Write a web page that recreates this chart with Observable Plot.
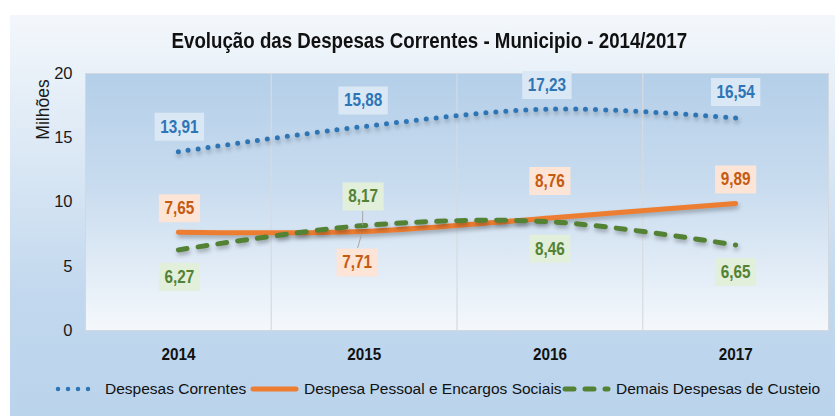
<!DOCTYPE html>
<html>
<head>
<meta charset="utf-8">
<script src="https://cdn.jsdelivr.net/npm/d3@7"></script>
<script src="https://cdn.jsdelivr.net/npm/@observablehq/plot@0.6"></script>
<style>
  html, body { margin: 0; padding: 0; background: #ffffff; }
  #wrap { position: relative; width: 835px; height: 416px; overflow: hidden; }
  #bg { position: absolute; left: 10px; top: 15px; width: 825px; height: 401px;
        background: linear-gradient(to bottom, #f3f7fb 0%, #dbe8f5 35%, #c2d8ee 70%, #bad4ec 100%); }
  #title { position: absolute; left: 0; top: 29px; width: 858px; text-align: center; }
  #title span { display: inline-block; transform: scaleX(0.87); transform-origin: center;
           font-family: "Liberation Sans", Arial, sans-serif; font-weight: bold;
           font-size: 21.5px; color: #111; white-space: nowrap; }
  #chart { position: absolute; left: 0; top: 60px; }
  #legend { position: absolute; left: 0; top: 378px; width: 835px; height: 22px;
            font-family: "Liberation Sans", Arial, sans-serif; font-size: 15.5px; color: #111; }
  .item { position: absolute; top: 0; display: flex; align-items: center; height: 22px; white-space: nowrap; }
  .item svg { margin-right: 4px; }
  svg g[aria-label="line"] { filter: drop-shadow(1px 3px 2px rgba(0,0,0,0.28)); }
</style>
</head>
<body>
<div id="wrap">
  <div id="bg"></div>
  <div id="title"><span></span></div>
  <div id="chart"></div>
  <div id="legend"></div>
</div>
<script>
// ---- data ----
const years = [2014, 2015, 2016, 2017];
const despesasCorrentes = [13.91, 15.88, 17.23, 16.54];
const despesaPessoal = [7.65, 7.71, 8.76, 9.89];
const demaisDespesas = [6.27, 8.17, 8.46, 6.65];
const seriesNames = ["Despesas Correntes", "Despesa Pessoal e Encargos Sociais", "Demais Despesas de Custeio"];
const yTicks = [0, 5, 10, 15, 20];
const titleText = "Evolução das Despesas Correntes - Municipio - 2014/2017";
const yLabel = "Milhões";

// ---- styles / layout (not data) ----
const seriesStyle = [
  {color: "#2e75b6", text: "#2e75b6", box: "#dae7f4", width: 5, dash: "0 10", cap: "round"},
  {color: "#ed7d31", text: "#c55a11", box: "#fce4d6", width: 5, dash: null, cap: "round"},
  {color: "#548235", text: "#548235", box: "#e2efda", width: 5, dash: "9 11", cap: "round"}
];
const labelOffsets = [
  [[1, -25], [-1, -26], [-3, -24], [0, -26]],
  [[1, -24], [-7, 31], [0, -37], [0, -24]],
  [[1, 27], [-1, -29], [0, 27], [0, 27]]
];

const allValues = [despesasCorrentes, despesaPessoal, demaisDespesas];
const rows = allValues.map((vals, s) => years.map((yr, i) => ({year: yr, value: vals[i], series: seriesNames[s]})));
const fmt = v => v.toFixed(2).replace(".", ",");

document.querySelector("#title span").textContent = titleText;

const labelFont = "'Liberation Sans', Arial, sans-serif";

function boxSymbol(w, h) {
  return {draw(ctx) { ctx.moveTo(-w/2, -h/2); ctx.lineTo(w/2, -h/2); ctx.lineTo(w/2, h/2); ctx.lineTo(-w/2, h/2); ctx.closePath(); }};
}

const labelMarks = [];
rows.forEach((data, s) => {
  data.forEach((d, i) => {
    const [dx, dy] = labelOffsets[s][i];
    const txt = fmt(d.value);
    const w = (txt.length - 1) * 8.3 + 4.2 + 12;
    labelMarks.push(Plot.dot([d], {x: "year", y: "value", dx, dy, r: 10, symbol: boxSymbol(w, 28), fill: seriesStyle[s].box, stroke: null}));
    labelMarks.push(Plot.text([d], {x: "year", y: "value", dx, dy, text: dd => fmt(dd.value), fill: seriesStyle[s].text,
      fontWeight: "bold", fontSize: 18, fontFamily: labelFont}));
  });
});

// leader lines for crowded labels at 2015
function leaders(index, scales) {
  const g = d3.create("svg:g");
  const x = scales.x(years[1]);
  const yg = scales.y(demaisDespesas[1]);
  const yo = scales.y(despesaPessoal[1]);
  g.append("line").attr("x1", x - 1).attr("y1", yg - 14).attr("x2", x - 1).attr("y2", yg).attr("stroke", "#a6a6a6").attr("stroke-width", 1);
  g.append("line").attr("x1", x - 2).attr("y1", yo + 3).attr("x2", x - 6).attr("y2", yo + 17).attr("stroke", "#a6a6a6").attr("stroke-width", 1);
  return g.node();
}

const plot = Plot.plot({
  width: 835,
  height: 315,
  marginLeft: 85,
  marginRight: 7,
  marginTop: 13,
  marginBottom: 45,
  style: {background: "transparent", fontFamily: "'Liberation Sans', Arial, sans-serif", overflow: "visible"},
  x: {domain: [years[0] - 0.5, years[years.length - 1] + 0.5], ticks: years, tickFormat: d => String(d), tickSize: 0, tickPadding: 18, label: null},
  y: {domain: [0, 20], ticks: yTicks, tickSize: 0, tickPadding: 13, label: null},
  marks: [
    Plot.frame({fill: "url(#plotGrad)", stroke: "#d3d8de"}),
    Plot.ruleX(years.slice(1).map(y => y - 0.5), {stroke: "#d6dbe0", strokeWidth: 1.2}),
    Plot.axisY({ticks: yTicks, tickSize: 0, tickPadding: 13, fontSize: 16.5, fill: "#1a1a1a", label: null}),
    Plot.axisX({ticks: years, tickFormat: d => String(d), tickSize: 0, tickPadding: 17, fontSize: 17, fontWeight: "bold", fill: "#111", label: null}),
    Plot.text([yLabel], {frameAnchor: "top-left", rotate: -90, textAnchor: "middle", lineAnchor: "middle", dx: -42, dy: 36, fontSize: 17.5, fill: "#1a1a1a"}),
    ...rows.map((data, s) => Plot.line(data, {x: "year", y: "value", curve: "cardinal",
      stroke: seriesStyle[s].color, strokeWidth: seriesStyle[s].width,
      strokeDasharray: seriesStyle[s].dash, strokeLinecap: seriesStyle[s].cap, strokeLinejoin: "round"})),
    leaders,
    ...labelMarks
  ]
});

const defs = d3.create("svg:defs");
const lg = defs.append("linearGradient").attr("id", "plotGrad").attr("x1", 0).attr("y1", 0).attr("x2", 0).attr("y2", 1);
lg.append("stop").attr("offset", "0%").attr("stop-color", "#b4cfe9");
lg.append("stop").attr("offset", "45%").attr("stop-color", "#c9dcef");
lg.append("stop").attr("offset", "100%").attr("stop-color", "#f4f8fc");
plot.insertBefore(defs.node(), plot.firstChild);

// condense the data-label glyphs horizontally (narrow bold look)
d3.select(plot).selectAll('g[aria-label="text"][font-size="18"] text').each(function() {
  const t = this.getAttribute("transform") || "";
  this.setAttribute("transform", t + " scale(0.85,1)");
});
// condense the x tick labels slightly
d3.select(plot).selectAll('g[aria-label="x-axis tick label"] text').each(function() {
  const t = this.getAttribute("transform") || "";
  this.setAttribute("transform", t + " scale(0.9,1)");
});
document.getElementById("chart").appendChild(plot);

// ---- legend ----
const legend = d3.select("#legend");
const legendPos = [55, 250, 562];
seriesNames.forEach((name, s) => {
  const st = seriesStyle[s];
  const item = legend.append("div").attr("class", "item").style("left", legendPos[s] + "px");
  const sw = item.append("svg").attr("width", s === 0 ? 46 : 50).attr("height", 12);
  sw.append("line").attr("x1", 3).attr("x2", s === 0 ? 43 : 46).attr("y1", 6).attr("y2", 6)
    .attr("stroke", st.color).attr("stroke-width", s === 0 ? 4.5 : 5)
    .attr("stroke-linecap", "round").attr("stroke-dasharray", st.dash);
  item.append("span").text(name);
});
</script>
</body>
</html>
